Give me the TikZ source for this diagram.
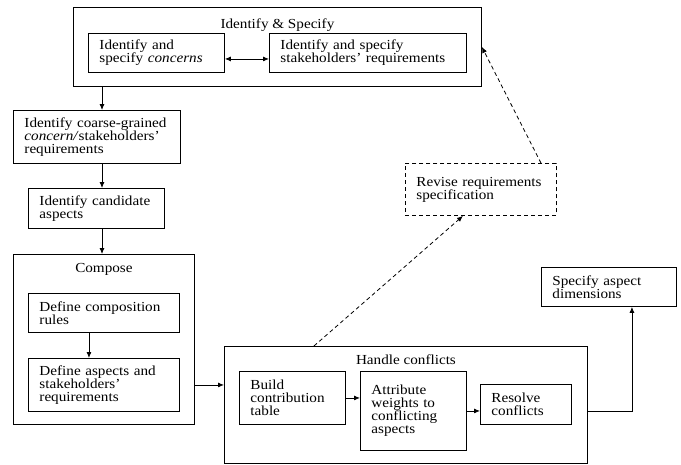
\documentclass[tikz,border=0pt]{standalone}
\usepackage{fontspec}
\setmainfont{Liberation Serif}[FakeStretch=1.1]
\usepackage{tikz}
\usetikzlibrary{positioning, arrows.meta, calc}

\begin{document}
\begin{tikzpicture}[
    x=1pt, y=-1pt,
    box/.style={rectangle, draw, line width=0.9pt, anchor=north west, align=left,
                inner xsep=11pt, inner ysep=2pt, font=\fontsize{13.8}{13}\selectfont},
    group/.style={rectangle, draw, line width=0.9pt, anchor=north west},
    title/.style={inner sep=0pt, font=\fontsize{13.8}{13}\selectfont},
    arr/.style={-{Latex[length=6pt, width=5pt]}, line width=0.8pt},
    dasharr/.style={arr, dash pattern=on 4pt off 3pt}
  ]
  \useasboundingbox (0,0) rectangle (681,464);
  % Identify & Specify
  \node[group, minimum width=408pt, minimum height=79pt] (ident) at (73,7) {};
  \node[title, below=12pt of ident.north] (identT) {Identify \& Specify};
  \node[box, text width=114pt, minimum height=39pt] (conc)  at (88,33)  {Identify and\\specify \textit{concerns}};
  \node[box, text width=175pt, minimum height=39pt] (stake) at (269,33) {Identify and specify\\stakeholders' requirements};
  % left column
  \node[box, text width=145pt, minimum height=53pt] (coarse) at (13,110) {Identify coarse-grained\\\textit{concern/}stakeholders'\\requirements};
  \node[box, text width=114pt, minimum height=40pt] (cand) at (28,188) {Identify candidate\\aspects};
  % Compose
  \node[group, minimum width=181pt, minimum height=170pt] (comp) at (13,254) {};
  \node[title, below=9pt of comp.north] (compT) {Compose};
  \node[box, text width=129pt, minimum height=39pt] (rules)  at (28,293) {Define composition\\rules};
  \node[box, text width=129pt, minimum height=53pt] (defasp) at (28,358) {Define aspects and\\stakeholders'\\requirements};
  % Handle conflicts
  \node[group, minimum width=363pt, minimum height=117pt] (handle) at (224,346) {};
  \node[title, below=9pt of handle.north] (handleT) {Handle conflicts};
  \node[box, text width=84pt, minimum height=53pt] (build)   at (239,371) {Build\\contribution\\table};
  \node[box, text width=84pt, minimum height=79pt] (attr)    at (360,371) {Attribute\\weights to\\conflicting\\aspects};
  \node[box, text width=69pt, minimum height=40pt] (resolve) at (480,384) {Resolve\\conflicts};
  % right side
  \node[box, text width=129pt, minimum height=52pt, dash pattern=on 4pt off 3pt] (revise) at (405,163) {Revise requirements\\specification};
  \node[box, text width=113pt, minimum height=39pt] (spec) at (541,267) {Specify aspect\\dimensions};

  \coordinate (spine) at (102,0);
  \draw[{Latex[length=6pt, width=5pt]}-{Latex[length=6pt, width=5pt]}, line width=0.8pt]
    ([yshift=-6pt]conc.east) -- ([yshift=-6pt]stake.west);
  \draw[arr] (spine |- ident.south) -- (spine |- coarse.north);
  \draw[arr] (spine |- coarse.south) -- (spine |- cand.north);
  \draw[arr] (spine |- cand.south) -- (spine |- comp.north);
  \draw[arr] ([xshift=-15pt]rules.south) -- ([xshift=-15pt]defasp.north);
  \draw[arr] (comp.east |- defasp.east) -- (handle.west |- defasp.east);
  \draw[arr] (build.east) -- (attr.west |- build.east);
  \draw[arr] (attr.east) -- (resolve.west |- attr.east);
  \draw[arr] (handle.east |- attr.east) -| ([xshift=23pt]spec.south);
  \draw[dasharr] ([xshift=-92pt]handle.north) -- ([xshift=-18pt]revise.south);
  \draw[dasharr] ([xshift=60pt]revise.north) -- (ident.east);
\end{tikzpicture}
\end{document}
